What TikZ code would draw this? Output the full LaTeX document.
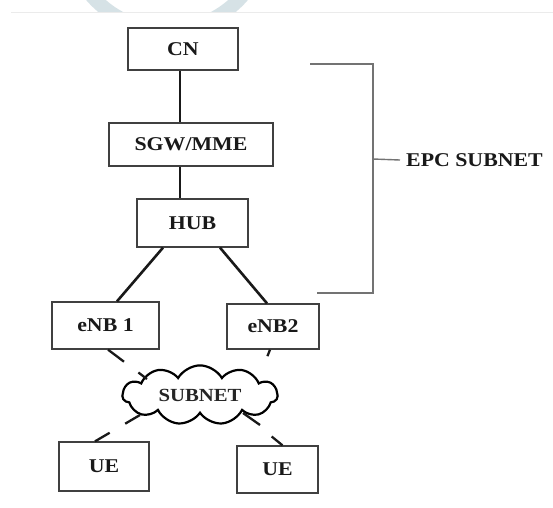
\documentclass[tikz,border=0pt]{standalone}
\usepackage{fontspec}
\setmainfont[FakeStretch=1.12]{Liberation Serif}
\usetikzlibrary{shapes.symbols,calc}
\begin{document}
\begin{tikzpicture}[x=1pt,y=-1pt,
  box/.style={draw=black!75,line width=1.3pt,fill=white,inner sep=0pt,
    font=\fontsize{19.5}{22}\selectfont\bfseries,text=black!90},
  link/.style={line width=2.6pt,black!90},
  dlink/.style={line width=2.3pt,black!90},
  brk/.style={line width=1.4pt,black!55}]
\useasboundingbox (0,0) rectangle (553,507);
\fill[white] (0,0) rectangle (553,507);
% faint watermark and page edge
\begin{scope}
\clip (0,0) rectangle (553,11);
\draw[line width=14pt,color={rgb,255:red,214;green,226;blue,230}] (167,-70) circle (100);
\end{scope}
\draw[line width=1pt,black!8] (11,12) -- (553,12);
% nodes
\node[box,minimum width=110,minimum height=42] (cn) at (183,49) {CN};
\node[box,minimum width=164,minimum height=43] (sgw) at (191,144.5) {SGW/MME};
\node[box,minimum width=111,minimum height=48] (hub) at (192.5,223) {HUB\hspace{14pt}};
\node[box,minimum width=107,minimum height=47] (e1) at (105.5,325.5) {eNB 1\hspace{14pt}};
\node[box,minimum width=92,minimum height=45] (e2) at (273,326.5) {eNB2};
\node[box,minimum width=90,minimum height=49] (ue1) at (104,466.5) {UE};
\node[box,minimum width=81,minimum height=47] (ue2) at (277.5,469.5) {UE};
\node[cloud,draw=black,line width=2.2pt,fill=white,cloud puffs=11,cloud puff arc=120,
  aspect=2.8,minimum width=155,minimum height=58,inner sep=0pt,
  font=\fontsize{18.5}{22}\selectfont\bfseries,text=black!85] (sub) at (200,395) {SUBNET};
% solid links
\draw[link] ([xshift=-3pt]cn.south) -- ([xshift=-3pt]cn.south |- sgw.north);
\draw[link] ([xshift=-11pt]sgw.south) -- ([xshift=-11pt]sgw.south |- hub.north);
\draw[link] ([xshift=-29.5pt]hub.south) -- ([xshift=11.5pt]e1.north);
\draw[link] ([xshift=27.5pt]hub.south) -- ([xshift=-6pt]e2.north);
% broken links to the cloud
\coordinate (c1) at (147,379);
\coordinate (c2) at (262,370);
\coordinate (c3) at (140,415);
\coordinate (c4) at (243,413);
\draw[dlink,dash pattern=on 20pt off 18pt on 12pt] ([xshift=2.5pt]e1.south) -- (c1);
\draw[dlink,dash pattern=on 7pt off 40pt] ([xshift=-3pt]e2.south) -- (c2);
\draw[dlink,dash pattern=on 17pt off 18pt on 20pt] ([xshift=-9pt]ue1.north) -- (c3);
\draw[dlink,dash pattern=on 14pt off 40pt] ([xshift=5pt]ue2.north) -- (c4);
\draw[dlink] (c4) -- ++(17,12);
% EPC bracket
\node[anchor=west,inner ysep=0pt,inner xsep=6pt,font=\fontsize{19.5}{22}\selectfont\bfseries,text=black!90] (epc) at (400,160) {EPC SUBNET};
\draw[brk] (310,64) -- (373,64) -- (373,293) -- (317,293);
\draw[brk] (373,159) -- (epc.west);
\end{tikzpicture}
\end{document}
